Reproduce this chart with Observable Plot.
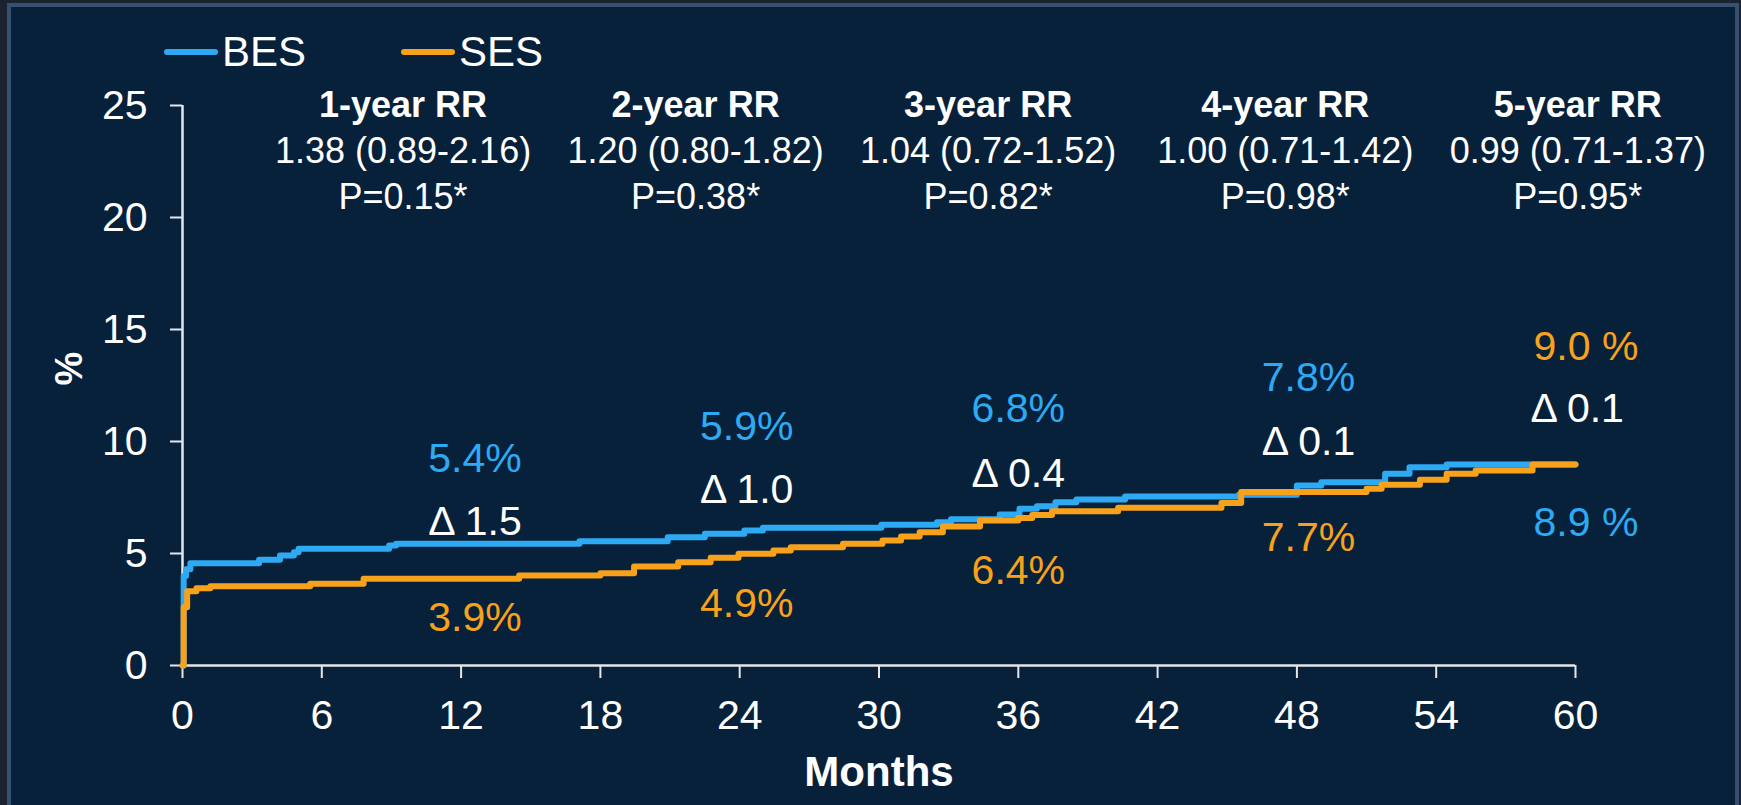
<!DOCTYPE html>
<html>
<head>
<meta charset="utf-8">
<script src="https://cdn.jsdelivr.net/npm/d3@7"></script>
<script src="https://cdn.jsdelivr.net/npm/@observablehq/plot@0.6"></script>
<style>
  html, body { margin: 0; padding: 0; background: #1b2230; }
  #page { position: relative; width: 1741px; height: 805px; background: #1b2230; overflow: hidden;
          font-family: "Liberation Sans", Arial, sans-serif; color: #fff; }
  #panel { position: absolute; left: 7px; top: 3px; width: 1732px; height: 830px; box-sizing: border-box;
           border: 4px solid #36506f; background: #08213a; }
  #legend { position: absolute; left: 0; top: 0; width: 1741px; height: 75px; }
  .item { position: absolute; top: 31px; display: flex; align-items: center; height: 42px; font-size: 42px; line-height: 1; }
  .swatch { display: inline-block; width: 54px; height: 6px; border-radius: 3px; margin-right: 4px; }
  #chart { position: absolute; left: 0; top: 75px; }
  #chart svg { display: block; }
</style>
</head>
<body>
<div id="page">
  <div id="panel"></div>
  <div id="legend"></div>
  <div id="chart"></div>
</div>
<script>
// ---- Data ----
const seriesNames = ["BES", "SES"];
const seriesColors = ["#2eaaf4", "#f8a21c"];

// BES cumulative incidence (%) — step times (months) and values
const besMonths = [0, 0.05, 0.15, 0.34, 3.3, 4.2, 4.8, 5.0, 8.9, 9.2, 17.1, 20.9, 22.5, 24.2, 25.0, 30.1, 32.5, 33.1, 35.2, 36.05, 36.8, 37.6, 38.5, 40.6, 45.5, 48.0, 49.05, 51.8, 52.85, 54.45, 60];
const besValues = [0, 4.0, 4.3, 4.57, 4.72, 4.91, 5.06, 5.21, 5.36, 5.43, 5.55, 5.73, 5.88, 6.03, 6.15, 6.28, 6.40, 6.53, 6.74, 7.0, 7.11, 7.29, 7.41, 7.54, 7.62, 8.04, 8.18, 8.56, 8.85, 8.97, 8.97];

// SES cumulative incidence (%)
const sesMonths = [0, 0.05, 0.2, 0.6, 1.2, 5.5, 7.8, 14.5, 18.0, 19.45, 21.35, 22.75, 23.95, 25.45, 26.2, 28.45, 30.15, 30.95, 31.75, 32.75, 34.35, 36.0, 36.6, 37.45, 40.3, 44.75, 45.6, 51.0, 51.65, 53.3, 54.45, 55.7, 58.15, 60];
const sesValues = [0, 2.6, 3.32, 3.45, 3.54, 3.65, 3.87, 4.02, 4.12, 4.42, 4.61, 4.81, 4.99, 5.13, 5.28, 5.43, 5.58, 5.76, 5.95, 6.21, 6.47, 6.59, 6.72, 6.89, 7.04, 7.25, 7.74, 7.89, 8.07, 8.29, 8.56, 8.71, 8.97, 8.97];

// Axis ticks
const xTicks = [0, 6, 12, 18, 24, 30, 36, 42, 48, 54, 60];
const yTicks = [0, 5, 10, 15, 20, 25];

// Rate-ratio annotations
const rrTitles = ["1-year RR", "2-year RR", "3-year RR", "4-year RR", "5-year RR"];
const rrCI = ["1.38 (0.89-2.16)", "1.20 (0.80-1.82)", "1.04 (0.72-1.52)", "1.00 (0.71-1.42)", "0.99 (0.71-1.37)"];
const rrP = ["P=0.15*", "P=0.38*", "P=0.82*", "P=0.98*", "P=0.95*"];
const rrAtMonth = [9.5, 22.1, 34.7, 47.5, 60.1];
const rrRowAt = [25.0, 22.95, 20.9];

// Yearly percentage annotations
const pctAtMonth = [12.6, 24.3, 36.0, 48.5, 60.45];
const besPctText = ["5.4%", "5.9%", "6.8%", "7.8%", "8.9 %"];
const sesPctText = ["3.9%", "4.9%", "6.4%", "7.7%", "9.0 %"];
const deltaText = ["Δ 1.5", "Δ 1.0", "Δ 0.4", "Δ 0.1", "Δ 0.1"];
const besPctAt = [9.24, 10.67, 11.45, 12.83, 6.38];
const sesPctAt = [2.11, 2.77, 4.24, 5.69, 14.24];
const deltaAt = [6.43, 7.83, 8.57, 10.0, 11.44];
const deltaAtMonth = [12.6, 24.3, 36.0, 48.5, 60.07];

// ---- Tables built from arrays ----
const bes = besMonths.map((t, i) => ({t, v: besValues[i]}));
const ses = sesMonths.map((t, i) => ({t, v: sesValues[i]}));
const rr = rrTitles.map((title, i) => ({m: rrAtMonth[i], title, ci: rrCI[i], p: rrP[i]}));
const pctB = besPctText.map((s, i) => ({m: pctAtMonth[i], y: besPctAt[i], s}));
const pctS = sesPctText.map((s, i) => ({m: pctAtMonth[i], y: sesPctAt[i], s}));
const dl = deltaText.map((s, i) => ({m: deltaAtMonth[i], y: deltaAt[i], s}));

// ---- Legend ----
const legend = document.getElementById("legend");
const legendLeft = [164, 401];
seriesNames.forEach((name, i) => {
  const it = document.createElement("div");
  it.className = "item";
  it.style.left = legendLeft[i] + "px";
  it.innerHTML = `<span class="swatch" style="background:${seriesColors[i]}"></span><span>${name}</span>`;
  legend.appendChild(it);
});

// ---- Chart ----
const axisColor = "#e4e6ea";
const chart = Plot.plot({
  width: 1741,
  height: 730,
  marginLeft: 182,
  marginRight: 166,
  marginTop: 30,
  marginBottom: 140,
  x: {domain: [0, 60]},
  y: {domain: [0, 25]},
  style: {background: "transparent", color: "#ffffff", fontFamily: "'Liberation Sans', Arial, sans-serif", fontSize: "41px"},
  marks: [
    Plot.axisX({ticks: xTicks, tickSize: 13, tickPadding: 21, label: null, stroke: axisColor, strokeWidth: 2, fontSize: 41}),
    Plot.axisY({ticks: yTicks, tickSize: 12, tickPadding: 23, label: null, stroke: axisColor, strokeWidth: 2, fontSize: 41}),
    Plot.ruleY([0], {stroke: axisColor, strokeWidth: 2.5}),
    Plot.ruleX([0], {stroke: axisColor, strokeWidth: 2.5}),
    Plot.line(bes, {x: "t", y: "v", curve: "step-after", stroke: seriesColors[0], strokeWidth: 6}),
    Plot.line(ses, {x: "t", y: "v", curve: "step-after", stroke: seriesColors[1], strokeWidth: 6}),
    Plot.text(rr, {x: "m", y: () => rrRowAt[0], text: "title", fontWeight: "bold", fontSize: 36, fill: "#ffffff"}),
    Plot.text(rr, {x: "m", y: () => rrRowAt[1], text: "ci", fontSize: 36, fill: "#ffffff"}),
    Plot.text(rr, {x: "m", y: () => rrRowAt[2], text: "p", fontSize: 36, fill: "#ffffff"}),
    Plot.text(pctB, {x: "m", y: "y", text: "s", fontSize: 41, fill: seriesColors[0]}),
    Plot.text(pctS, {x: "m", y: "y", text: "s", fontSize: 41, fill: seriesColors[1]}),
    Plot.text(dl, {x: "m", y: "y", text: "s", fontSize: 41, fill: "#ffffff"}),
    Plot.text(["Months"], {frameAnchor: "bottom", lineAnchor: "middle", dy: 107, fontWeight: "bold", fontSize: 42, fill: "#ffffff"}),
    Plot.text(["%"], {frameAnchor: "left", dx: -113, rotate: -90, fontWeight: "bold", fontSize: 38, fill: "#ffffff"})
  ]
});
document.getElementById("chart").appendChild(chart);
</script>
</body>
</html>
